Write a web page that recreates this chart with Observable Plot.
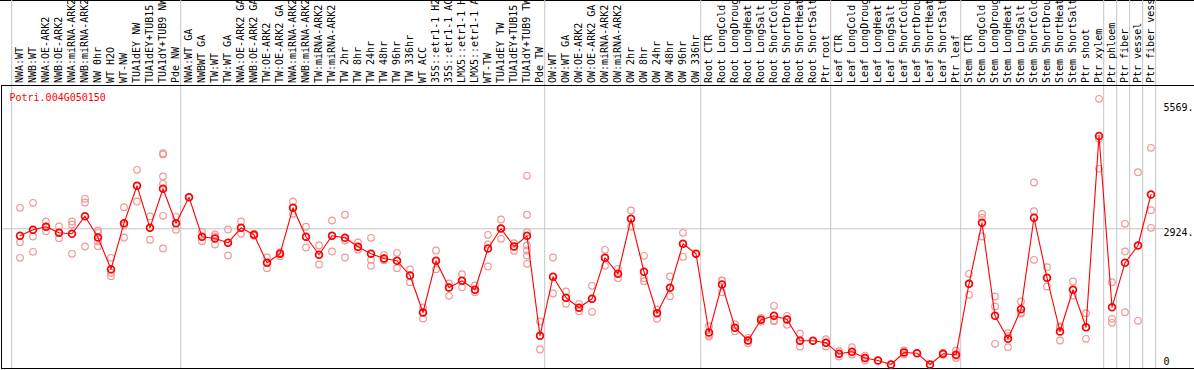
<!DOCTYPE html>
<html><head><meta charset="utf-8">
<script src="https://cdn.jsdelivr.net/npm/d3@7"></script>
<script src="https://cdn.jsdelivr.net/npm/@observablehq/plot@0.6"></script>
<style>
body{margin:0;background:#fff;}
#chart svg{display:block;box-shadow:inset 0 1px 0 #000;}
</style></head><body><div id="chart"></div>
<script>
const geneId = "Potri.004G050150";
const labels = ["NWA:WT","NWB:WT","NWA:OE-ARK2","NWB:OE-ARK2","NWA:miRNA-ARK2","NWB:miRNA-ARK2","NW 0hr","WT H2O","WT-NW","TUA1dEY NW",
"TUA1dEY+TUB15","TUA1dY+TUB9 NW","Pde NW","NWA:WT GA","NWBWT GA","TW:WT","TW:WT GA","NWA:OE-ARK2 GA","NWB:OE-ARK2 GA","TW:OE-ARK2",
"TW:OE-ARK2 GA","NWA:miRNA-ARK2","NWB:miRNA-ARK2","TW:miRNA-ARK2","TW:miRNA-ARK2","TW 2hr","TW 8hr","TW 24hr","TW 48hr","TW 96hr",
"TW 336hr","WT ACC","35S::etr1-1 H2O","35S::etr1-1 ACC","LMX5::etr1-1 H2O","LMX5::etr1-1 ACC","WT-TW","TUA1dEY TW","TUA1dEY+TUB15","TUA1dY+TUB9 TW",
"Pde TW","OW:WT","OW:WT GA","OW:OE-ARK2","OW:OE-ARK2 GA","OW:miRNA-ARK2","OW:miRNA-ARK2","OW 2hr","OW 8hr","OW 24hr",
"OW 48hr","OW 96hr","OW 336hr","Root CTR","Root LongCold","Root LongDrought","Root LongHeat","Root LongSalt","Root ShortCold","Root ShortDrought",
"Root ShortHeat","Root ShortSalt","Ptr root","Leaf CTR","Leaf LongCold","Leaf LongDrought","Leaf LongHeat","Leaf LongSalt","Leaf ShortCold","Leaf ShortDrought",
"Leaf ShortHeat","Leaf ShortSalt","Ptr leaf","Stem CTR","Stem LongCold","Stem LongDrought","Stem LongHeat","Stem LongSalt","Stem ShortCold","Stem ShortDrought",
"Stem ShortHeat","Stem ShortSalt","Ptr shoot","Ptr xylem","Ptr phloem","Ptr fiber","Ptr vessel","Ptr fiber vessel"];
const means = [2776,2903,2967,2840,2819,3191,2740,2069,3043,3834,
2945,3771,3043,3593,2755,2719,2628,2945,2797,2205,
2395,3369,2755,2374,2776,2734,2543,2395,2296,2247,
1936,1153,2247,1682,1824,1634,2507,2931,2550,2776,
660,1909,1464,1253,1443,2311,1972,3136,2014,1138,
1676,2607,2395,730,1746,829,561,999,1083,1005,
554,554,512,279,322,190,138,53,307,292,
53,279,258,1761,3051,1083,597,1223,3157,1887,
751,1634,842,4888,1265,2205,2571,3650];
const replicates = [
[3369,2641,2311],[3474,2761,2438],[3079,2967,2874],[2973,2840,2725],[3079,3015,2395],
[3559,3481,2550],[2888,2840,2656,2556],[2311,1993,1921],[3381,2994,2740],[4173,3834,3502],
[3185,2945,2692],[4524,4497,4031,3876,3199,2507],[3178,3043,2903],[3593],[2861,2755,2662],
[2805,2761,2592],[2910,2628,2359],[3079,2945,2819],[2819,2776],[2323,2205,2091],
[2429,2395,2345],[3502,3369,3242],[2967,2755,2529],[2571,2374,2169],[3100,2776,2444],
[3221,2677,2317],[2634,2543,2480],[2734,2268,2141],[2374,2296,2260],[2416,2247,2091],
[2063,1936,1794],[1259,1153,1026],[2465,2247,2069],[1767,1682,1507],[1964,1824,1689],
[1725,1634,1583],[2797,2592,2127],[3121,2931,2713],[2620,2550,2459],[4046,3221,2852,2571,2465,2359,2184],
[963,660,370],[2317,1909,1555],[1598,1464,1337],[1337,1253,1181],[1718,1443,1168],
[2480,2311,2141],[2078,1972,1879],[3312,3136,2973],[2353,1879,1816],[1217,1138,1020],
[1915,1676,1498],[2840,2607,2332],[2395],[865,681,645],[1830,1825,1583],
[906,829,758],[618,561,504],[1041,999,957],[1295,985,969],[1083,1005,893],
[709,554,434],[554],[588,512,436],[336,279,222],[419,322,265],
[242,190,138],[138],[53],[349,307,265],[292],
[53],[300,279,258],[349,237,188],[1972,1761,1528],[3240,3160,2761],
[1492,1280,491],[715,656,419],[1386,1153,1130],[3904,3297,2268],[2112,1887,1703],
[857,835,561],[1809,1634,1513],[1138,842,597],[5675,4829,4194],[1794,1020,935],
[3030,2444,1160],[4122,978],[4638,3318,2945]];
const groupEnds = [-1,12,40,52,62,72,83,84,85,86,87];
const gridValues = [2924];
const yTickValues = [5569,2924,0];
const yTickLabels = ["5569.","2924.","0"];

const repRows = replicates.flatMap((vals,i)=>vals.map(v=>({i,v})));
const meanRows = means.map((v,i)=>({i,v}));
const tickRows = yTickValues.map((v,k)=>({v,label:yTickLabels[k]}));
const font = "'DejaVu Sans Mono', monospace";

const chart = Plot.plot({
  width:1194, height:370,
  marginTop:0, marginRight:0, marginBottom:0, marginLeft:0,
  style:{fontFamily:font, fontSize:"10px", background:"white", overflow:"visible"},
  x:{type:"linear", domain:[0,labels.length-1], range:[19.5,1150.5], axis:null},
  y:{domain:[0,5569], range:[366.5,103.3], axis:null},
  marks:[
    Plot.ruleY(gridValues,{stroke:"#c4c4c4", insetLeft:1, insetRight:31}),
    Plot.ruleX(groupEnds,{x:d=>d, dx:4.7, stroke:"#c4c4c4", insetBottom:2}),
    Plot.frame({insetTop:85, insetLeft:1, insetBottom:2, insetRight:-2, stroke:"#000"}),
    Plot.text(labels,{x:(d,i)=>i, text:d=>d, frameAnchor:"top", dy:82.5, rotate:-90, textAnchor:"start", lineAnchor:"middle", fill:"#000"}),
    Plot.text([geneId],{frameAnchor:"top-left", dx:9, dy:100.5, textAnchor:"start", lineAnchor:"bottom", fill:"#ff0000"}),
    Plot.text(tickRows.filter(d=>d.v>0),{y:"v", text:"label", frameAnchor:"right", dx:-31, textAnchor:"start", lineAnchor:"top", fill:"#000"}),
    Plot.text(tickRows.filter(d=>d.v===0),{y:"v", text:"label", frameAnchor:"right", dx:-31, dy:-2, textAnchor:"start", lineAnchor:"bottom", fill:"#000"}),
    Plot.dot(repRows,{x:"i", y:"v", r:3.3, stroke:"#f09898", strokeWidth:1.2, fill:"none"}),
    Plot.line(meanRows,{x:"i", y:"v", stroke:"#ff0000", strokeWidth:1.1}),
    Plot.dot(meanRows,{x:"i", y:"v", r:3.4, stroke:"#ff0000", strokeWidth:1.7, fill:"none"})
  ]
});
document.getElementById("chart").appendChild(chart);
</script></body></html>
